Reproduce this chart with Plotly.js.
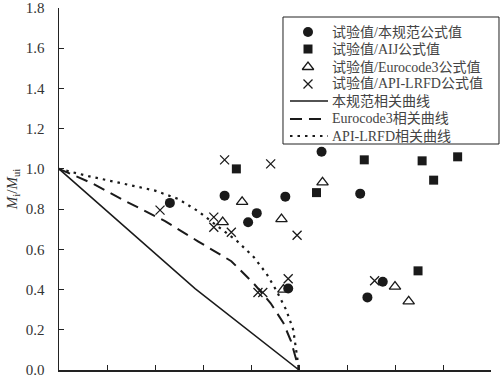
<!DOCTYPE html>
<html>
<head>
<meta charset="utf-8">
<script src="https://cdn.plot.ly/plotly-3.0.1.min.js"></script>
<style>html,body{margin:0;padding:0;background:#fff;}#chart{width:500px;height:380px;}</style>
</head>
<body>
<div id="chart"></div>
<script>
// Test points: N/Nu (x) and M/Mu (y)
const circleN = [0.462, 0.690, 0.943, 0.824, 0.788, 1.094, 1.255, 1.349, 1.285, 0.955];
const circleM = [0.831, 0.867, 0.862, 0.780, 0.735, 1.085, 0.877, 0.439, 0.361, 0.405];
const squareN = [0.739, 1.073, 1.272, 1.513, 1.661, 1.561, 1.496];
const squareM = [1.000, 0.882, 1.045, 1.040, 1.060, 0.944, 0.493];
const triN = [0.763, 0.682, 0.927, 1.098, 1.400, 1.457, 0.935];
const triM = [0.836, 0.735, 0.750, 0.933, 0.415, 0.341, 0.400];
const crossN = [0.421, 0.690, 0.882, 0.645, 0.645, 0.718, 0.992, 0.955, 0.829, 0.849, 1.315];
const crossM = [0.795, 1.045, 1.025, 0.760, 0.710, 0.685, 0.670, 0.454, 0.385, 0.385, 0.444];
// Interaction curves
const codeN = [0, 0.567, 1.0];
const codeM = [1.0, 0.405, 0];
const euroN = [0, 0.139, 0.275, 0.442, 0.579, 0.718, 0.812, 0.882, 0.935, 0.967, 0.988, 1.0];
const euroM = [1.0, 0.928, 0.841, 0.740, 0.640, 0.541, 0.429, 0.332, 0.234, 0.142, 0.053, 0];
const apiN = [0, 0.122, 0.263, 0.400, 0.496, 0.579, 0.661, 0.743, 0.812, 0.865, 0.906, 0.947, 0.976, 0.988, 1.0];
const apiM = [1.0, 0.964, 0.928, 0.892, 0.851, 0.790, 0.715, 0.640, 0.561, 0.478, 0.395, 0.298, 0.200, 0.111, 0];
const yTicks = [0, 0.2, 0.4, 0.6, 0.8, 1.0, 1.2, 1.4, 1.6, 1.8];
const xTicks = [0, 0.2, 0.4, 0.6, 0.8, 1.0, 1.2, 1.4, 1.6, 1.8];
const names = ['试验值/本规范公式值', '试验值/AIJ公式值', '试验值/Eurocode3公式值', '试验值/API-LRFD公式值',
               '本规范相关曲线', 'Eurocode3相关曲线', 'API-LRFD相关曲线'];

const ink = '#1a1a1a';
const fontFam = '"Liberation Serif", "Noto Sans CJK SC", serif';

// styles
const markerStyles = [
  {symbol: 'circle', size: 10, color: ink},
  {symbol: 'square', size: 9, color: ink},
  {symbol: 'triangle-up-open', size: 10, color: ink, line: {width: 1.3, color: ink}},
  {symbol: 'x-thin-open', size: 9, color: ink, line: {width: 1.3, color: ink}}
];
const lineStyles = [
  {color: ink, width: 1.5},
  {color: ink, width: 2, dash: '12px,7px'},
  {color: ink, width: 2.2, dash: '2.5px,5px'}
];

const pts = [[circleN, circleM], [squareN, squareM], [triN, triM], [crossN, crossM]];
const curves = [[codeN, codeM], [euroN, euroM], [apiN, apiM]];

const traces = [];
curves.forEach((c, i) => traces.push({x: c[0], y: c[1], mode: 'lines', name: names[4 + i],
  showlegend: false, line: lineStyles[i]}));
pts.forEach((p, i) => traces.push({x: p[0], y: p[1], mode: 'markers', name: names[i],
  showlegend: false, marker: markerStyles[i]}));

// Legend drawn in a hidden overlay frame (0..1 over the plot area)
const legRows = [0.9337, 0.8867, 0.8370, 0.7901, 0.7431, 0.6934, 0.6464];
const legKeyX = 0.5764, legLineX0 = 0.5347, legLineX1 = 0.6227, legTextX = 0.6273;
const shapes = [{type: 'rect', xref: 'paper', yref: 'paper', x0: 0.5185, x1: 1.0185, y0: 0.6243, y1: 0.9751,
  line: {color: '#222', width: 1}, fillcolor: '#fff', layer: 'below'}];
const annotations = [];
markerStyles.forEach((m, i) => traces.push({x: [legKeyX], y: [legRows[i]], xaxis: 'x2', yaxis: 'y2',
  mode: 'markers', showlegend: false, cliponaxis: false, marker: m, hoverinfo: 'skip'}));
lineStyles.forEach((l, i) => shapes.push({type: 'line', xref: 'paper', yref: 'paper',
  x0: legLineX0, x1: legLineX1, y0: legRows[4 + i], y1: legRows[4 + i], line: l, layer: 'below'}));
names.forEach((n, i) => annotations.push({text: n, xref: 'paper', yref: 'paper', x: legTextX, y: legRows[i],
  xanchor: 'left', yanchor: 'middle', showarrow: false, font: {family: fontFam, size: 14, color: '#444'}}));

const layout = {
  width: 500, height: 380,
  margin: {l: 59, r: 9, t: 8, b: 10},
  paper_bgcolor: '#fff', plot_bgcolor: '#fff',
  font: {family: fontFam, size: 15, color: '#333'},
  showlegend: false,
  shapes: shapes, annotations: annotations,
  xaxis: {
    range: [0, 1.8], tickvals: xTicks, showticklabels: false,
    ticks: 'inside', ticklen: 5, tickcolor: '#222', tickwidth: 1,
    showline: true, linecolor: '#222', linewidth: 1.5,
    showgrid: false, zeroline: false, fixedrange: true
  },
  yaxis: {
    range: [0, 1.8], tickvals: yTicks, ticktext: yTicks.map(v => v.toFixed(1)),
    ticks: 'inside', ticklen: 5, tickcolor: '#222', tickwidth: 1,
    ticklabelstandoff: 10, ticklabeloverflow: 'allow',
    showline: true, linecolor: '#222', linewidth: 1.5,
    showgrid: false, zeroline: false, fixedrange: true,
    tickfont: {family: fontFam, size: 15, color: '#333'},
    title: {text: '<i>M</i><sub>i</sub>/<i>M</i><sub>ui</sub>', standoff: 4,
            font: {family: fontFam, size: 15, color: '#333'}}
  },
  xaxis2: {overlaying: 'x', anchor: 'y2', range: [0, 1], visible: false, fixedrange: true},
  yaxis2: {overlaying: 'y', anchor: 'x2', range: [0, 1], visible: false, fixedrange: true}
};
Plotly.newPlot('chart', traces, layout, {staticPlot: true, displayModeBar: false});
</script>
</body>
</html>
